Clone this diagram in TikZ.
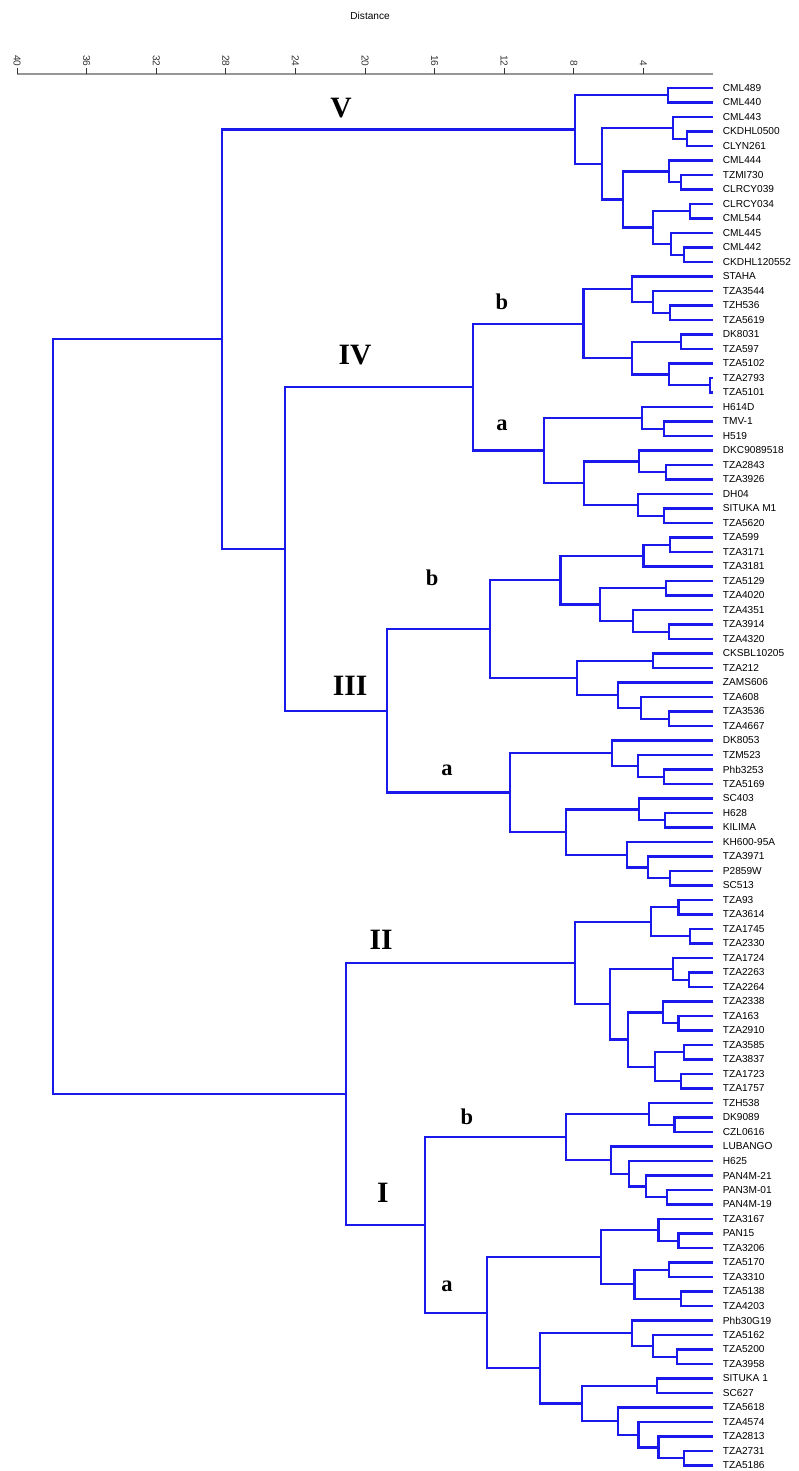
\documentclass[tikz,border=0pt]{standalone}
\usepackage{fontspec}
\newfontfamily\leaffont{Liberation Sans}
\newfontfamily\cladefont{Liberation Serif}
\usepackage{xcolor}
\definecolor{tree-blue}{RGB}{25,25,235}
\definecolor{axis-grey}{RGB}{150,150,150}
\usepackage{tikz}

\begin{document}
\begin{tikzpicture}[x=-0.435cm,y=-0.3625cm,
	branch/.style={draw=tree-blue,line width=1.6pt},
	leaf/.style={anchor=west,inner xsep=0.24cm,inner ysep=0pt,font=\leaffont\fontsize{7.2}{8}\selectfont},
	clade/.style={inner sep=0pt,font=\cladefont\bfseries\fontsize{21}{24}\selectfont},
	subclade/.style={inner sep=0pt,font=\cladefont\bfseries\fontsize{16}{18}\selectfont},
	ticklabel/.style={anchor=east,rotate=-90,inner sep=1pt,font=\leaffont\fontsize{7.2}{8}\selectfont}]
	
	\useasboundingbox (40.98,-6.069) rectangle (-4.94,95.38);
	
	% distance scale
	\node[font=\leaffont\fontsize{7.2}{8}\selectfont] (title) at (19.71,-4.97) {Distance};
	\draw[axis-grey,line width=1.3pt] (40,-0.97) coordinate (ax0) -- (0,-0.97) coordinate (ax1);
	\draw[black!80,line width=0.6pt]
		(40,-0.97) -- ++(0,-0.4) node[ticklabel] {40}
		(36,-0.97) -- ++(0,-0.4) node[ticklabel] {36}
		(32,-0.97) -- ++(0,-0.4) node[ticklabel] {32}
		(28,-0.97) -- ++(0,-0.4) node[ticklabel] {28}
		(24,-0.97) -- ++(0,-0.4) node[ticklabel] {24}
		(20,-0.97) -- ++(0,-0.4) node[ticklabel] {20}
		(16,-0.97) -- ++(0,-0.4) node[ticklabel] {16}
		(12,-0.97) -- ++(0,-0.4) node[ticklabel] {12}
		(8,-0.97) -- ++(0,-0.4) node[ticklabel] {8}
		(4,-0.97) -- ++(0,-0.4) node[ticklabel] {4};
	
	% leaves, group V
	\node[leaf] (CML489) at (0,0) {CML489};
	\node[leaf] (CML440) at (0,1) {CML440};
	\node[leaf] (CML443) at (0,2) {CML443};
	\node[leaf] (CKDHL0500) at (0,3) {CKDHL0500};
	\node[leaf] (CLYN261) at (0,4) {CLYN261};
	\node[leaf] (CML444) at (0,5) {CML444};
	\node[leaf] (TZMI730) at (0,6) {TZMI730};
	\node[leaf] (CLRCY039) at (0,7) {CLRCY039};
	\node[leaf] (CLRCY034) at (0,8) {CLRCY034};
	\node[leaf] (CML544) at (0,9) {CML544};
	\node[leaf] (CML445) at (0,10) {CML445};
	\node[leaf] (CML442) at (0,11) {CML442};
	\node[leaf] (CKDHL120552) at (0,12) {CKDHL120552};
	% leaves, group IV
	\node[leaf] (STAHA) at (0,13) {STAHA};
	\node[leaf] (TZA3544) at (0,14) {TZA3544};
	\node[leaf] (TZH536) at (0,15) {TZH536};
	\node[leaf] (TZA5619) at (0,16) {TZA5619};
	\node[leaf] (DK8031) at (0,17) {DK8031};
	\node[leaf] (TZA597) at (0,18) {TZA597};
	\node[leaf] (TZA5102) at (0,19) {TZA5102};
	\node[leaf] (TZA2793) at (0,20) {TZA2793};
	\node[leaf] (TZA5101) at (0,21) {TZA5101};
	\node[leaf] (H614D) at (0,22) {H614D};
	\node[leaf] (TMV1) at (0,23) {TMV-1};
	\node[leaf] (H519) at (0,24) {H519};
	\node[leaf] (DKC9089518) at (0,25) {DKC9089518};
	\node[leaf] (TZA2843) at (0,26) {TZA2843};
	\node[leaf] (TZA3926) at (0,27) {TZA3926};
	\node[leaf] (DH04) at (0,28) {DH04};
	\node[leaf] (SITUKAM1) at (0,29) {SITUKA M1};
	\node[leaf] (TZA5620) at (0,30) {TZA5620};
	% leaves, group III
	\node[leaf] (TZA599) at (0,31) {TZA599};
	\node[leaf] (TZA3171) at (0,32) {TZA3171};
	\node[leaf] (TZA3181) at (0,33) {TZA3181};
	\node[leaf] (TZA5129) at (0,34) {TZA5129};
	\node[leaf] (TZA4020) at (0,35) {TZA4020};
	\node[leaf] (TZA4351) at (0,36) {TZA4351};
	\node[leaf] (TZA3914) at (0,37) {TZA3914};
	\node[leaf] (TZA4320) at (0,38) {TZA4320};
	\node[leaf] (CKSBL10205) at (0,39) {CKSBL10205};
	\node[leaf] (TZA212) at (0,40) {TZA212};
	\node[leaf] (ZAMS606) at (0,41) {ZAMS606};
	\node[leaf] (TZA608) at (0,42) {TZA608};
	\node[leaf] (TZA3536) at (0,43) {TZA3536};
	\node[leaf] (TZA4667) at (0,44) {TZA4667};
	\node[leaf] (DK8053) at (0,45) {DK8053};
	\node[leaf] (TZM523) at (0,46) {TZM523};
	\node[leaf] (Phb3253) at (0,47) {Phb3253};
	\node[leaf] (TZA5169) at (0,48) {TZA5169};
	\node[leaf] (SC403) at (0,49) {SC403};
	\node[leaf] (H628) at (0,50) {H628};
	\node[leaf] (KILIMA) at (0,51) {KILIMA};
	\node[leaf] (KH60095A) at (0,52) {KH600-95A};
	\node[leaf] (TZA3971) at (0,53) {TZA3971};
	\node[leaf] (P2859W) at (0,54) {P2859W};
	\node[leaf] (SC513) at (0,55) {SC513};
	% leaves, group II
	\node[leaf] (TZA93) at (0,56) {TZA93};
	\node[leaf] (TZA3614) at (0,57) {TZA3614};
	\node[leaf] (TZA1745) at (0,58) {TZA1745};
	\node[leaf] (TZA2330) at (0,59) {TZA2330};
	\node[leaf] (TZA1724) at (0,60) {TZA1724};
	\node[leaf] (TZA2263) at (0,61) {TZA2263};
	\node[leaf] (TZA2264) at (0,62) {TZA2264};
	\node[leaf] (TZA2338) at (0,63) {TZA2338};
	\node[leaf] (TZA163) at (0,64) {TZA163};
	\node[leaf] (TZA2910) at (0,65) {TZA2910};
	\node[leaf] (TZA3585) at (0,66) {TZA3585};
	\node[leaf] (TZA3837) at (0,67) {TZA3837};
	\node[leaf] (TZA1723) at (0,68) {TZA1723};
	\node[leaf] (TZA1757) at (0,69) {TZA1757};
	% leaves, group I
	\node[leaf] (TZH538) at (0,70) {TZH538};
	\node[leaf] (DK9089) at (0,71) {DK9089};
	\node[leaf] (CZL0616) at (0,72) {CZL0616};
	\node[leaf] (LUBANGO) at (0,73) {LUBANGO};
	\node[leaf] (H625) at (0,74) {H625};
	\node[leaf] (PAN4M21) at (0,75) {PAN4M-21};
	\node[leaf] (PAN3M01) at (0,76) {PAN3M-01};
	\node[leaf] (PAN4M19) at (0,77) {PAN4M-19};
	\node[leaf] (TZA3167) at (0,78) {TZA3167};
	\node[leaf] (PAN15) at (0,79) {PAN15};
	\node[leaf] (TZA3206) at (0,80) {TZA3206};
	\node[leaf] (TZA5170) at (0,81) {TZA5170};
	\node[leaf] (TZA3310) at (0,82) {TZA3310};
	\node[leaf] (TZA5138) at (0,83) {TZA5138};
	\node[leaf] (TZA4203) at (0,84) {TZA4203};
	\node[leaf] (Phb30G19) at (0,85) {Phb30G19};
	\node[leaf] (TZA5162) at (0,86) {TZA5162};
	\node[leaf] (TZA5200) at (0,87) {TZA5200};
	\node[leaf] (TZA3958) at (0,88) {TZA3958};
	\node[leaf] (SITUKA1) at (0,89) {SITUKA 1};
	\node[leaf] (SC627) at (0,90) {SC627};
	\node[leaf] (TZA5618) at (0,91) {TZA5618};
	\node[leaf] (TZA4574) at (0,92) {TZA4574};
	\node[leaf] (TZA2813) at (0,93) {TZA2813};
	\node[leaf] (TZA2731) at (0,94) {TZA2731};
	\node[leaf] (TZA5186) at (0,95) {TZA5186};
	
	% junctions, group V
	\coordinate (v1) at (2.60,0.5);
	\coordinate (v2) at (1.51,3.5);
	\coordinate (v3) at (2.28,2.75);
	\coordinate (v4) at (1.84,6.5);
	\coordinate (v5) at (2.51,5.75);
	\coordinate (v6) at (1.32,8.5);
	\coordinate (v7) at (1.65,11.5);
	\coordinate (v8) at (2.43,10.75);
	\coordinate (v9) at (3.43,9.625);
	\coordinate (v10) at (5.16,7.6875);
	\coordinate (v11) at (6.40,5.21875);
	\coordinate (V) at (7.93,2.859);
	
	\draw[branch] (CML489.west) -| (v1) |- (CML440.west);
	\draw[branch] (CKDHL0500.west) -| (v2) |- (CLYN261.west);
	\draw[branch] (CML443.west) -| (v3) |- (v2);
	\draw[branch] (TZMI730.west) -| (v4) |- (CLRCY039.west);
	\draw[branch] (CML444.west) -| (v5) |- (v4);
	\draw[branch] (CLRCY034.west) -| (v6) |- (CML544.west);
	\draw[branch] (CML442.west) -| (v7) |- (CKDHL120552.west);
	\draw[branch] (CML445.west) -| (v8) |- (v7);
	\draw[branch] (v6) -| (v9) |- (v8);
	\draw[branch] (v5) -| (v10) |- (v9);
	\draw[branch] (v3) -| (v11) |- (v10);
	\draw[branch] (v1) -| (V) |- (v11);
	
	% junctions, group IV
	\coordinate (b1) at (2.47,15.5);
	\coordinate (b2) at (3.47,14.75);
	\coordinate (b3) at (4.67,13.875);
	\coordinate (b4) at (1.86,17.5);
	\coordinate (b5) at (0.17,20.5);
	\coordinate (b6) at (2.55,19.75);
	\coordinate (b7) at (4.64,18.625);
	\coordinate (IVb) at (7.45,16.25);
	\coordinate (a1) at (2.82,23.5);
	\coordinate (a2) at (4.10,22.75);
	\coordinate (a3) at (2.72,26.5);
	\coordinate (a4) at (4.25,25.75);
	\coordinate (a5) at (2.82,29.5);
	\coordinate (a6) at (4.31,28.75);
	\coordinate (a7) at (7.41,27.25);
	\coordinate (IVa) at (9.71,25);
	\coordinate (IV) at (13.81,20.625);
	
	\draw[branch] (TZH536.west) -| (b1) |- (TZA5619.west);
	\draw[branch] (TZA3544.west) -| (b2) |- (b1);
	\draw[branch] (STAHA.west) -| (b3) |- (b2);
	\draw[branch] (DK8031.west) -| (b4) |- (TZA597.west);
	\draw[branch] (TZA2793.west) -| (b5) |- (TZA5101.west);
	\draw[branch] (TZA5102.west) -| (b6) |- (b5);
	\draw[branch] (b4) -| (b7) |- (b6);
	\draw[branch] (b3) -| (IVb) |- (b7);
	\draw[branch] (TMV1.west) -| (a1) |- (H519.west);
	\draw[branch] (H614D.west) -| (a2) |- (a1);
	\draw[branch] (TZA2843.west) -| (a3) |- (TZA3926.west);
	\draw[branch] (DKC9089518.west) -| (a4) |- (a3);
	\draw[branch] (SITUKAM1.west) -| (a5) |- (TZA5620.west);
	\draw[branch] (DH04.west) -| (a6) |- (a5);
	\draw[branch] (a4) -| (a7) |- (a6);
	\draw[branch] (a2) -| (IVa) |- (a7);
	\draw[branch] (IVb) -| (IV) |- (IVa);
	
	% junctions, group III
	\coordinate (c1) at (2.47,31.5);
	\coordinate (c2) at (4.00,32.25);
	\coordinate (c3) at (2.72,34.5);
	\coordinate (c4) at (2.55,37.5);
	\coordinate (c5) at (4.58,36.75);
	\coordinate (c6) at (6.49,35.625);
	\coordinate (c7) at (8.77,33.9375);
	\coordinate (c8) at (3.43,39.5);
	\coordinate (c9) at (2.53,43.5);
	\coordinate (c10) at (4.14,42.75);
	\coordinate (c11) at (5.48,41.875);
	\coordinate (c12) at (7.80,40.6875);
	\coordinate (IIIb) at (12.82,37.3125);
	\coordinate (d1) at (2.82,47.5);
	\coordinate (d2) at (4.33,46.75);
	\coordinate (d3) at (5.79,45.875);
	\coordinate (d4) at (2.76,50.5);
	\coordinate (d5) at (4.25,49.75);
	\coordinate (d6) at (2.47,54.5);
	\coordinate (d7) at (3.75,53.75);
	\coordinate (d8) at (4.96,52.875);
	\coordinate (d9) at (8.47,51.3125);
	\coordinate (IIIa) at (11.67,48.594);
	\coordinate (III) at (18.74,42.953);
	
	\draw[branch] (TZA599.west) -| (c1) |- (TZA3171.west);
	\draw[branch] (c1) -| (c2) |- (TZA3181.west);
	\draw[branch] (TZA5129.west) -| (c3) |- (TZA4020.west);
	\draw[branch] (TZA3914.west) -| (c4) |- (TZA4320.west);
	\draw[branch] (TZA4351.west) -| (c5) |- (c4);
	\draw[branch] (c3) -| (c6) |- (c5);
	\draw[branch] (c2) -| (c7) |- (c6);
	\draw[branch] (CKSBL10205.west) -| (c8) |- (TZA212.west);
	\draw[branch] (TZA3536.west) -| (c9) |- (TZA4667.west);
	\draw[branch] (TZA608.west) -| (c10) |- (c9);
	\draw[branch] (ZAMS606.west) -| (c11) |- (c10);
	\draw[branch] (c8) -| (c12) |- (c11);
	\draw[branch] (c7) -| (IIIb) |- (c12);
	\draw[branch] (Phb3253.west) -| (d1) |- (TZA5169.west);
	\draw[branch] (TZM523.west) -| (d2) |- (d1);
	\draw[branch] (DK8053.west) -| (d3) |- (d2);
	\draw[branch] (H628.west) -| (d4) |- (KILIMA.west);
	\draw[branch] (SC403.west) -| (d5) |- (d4);
	\draw[branch] (P2859W.west) -| (d6) |- (SC513.west);
	\draw[branch] (TZA3971.west) -| (d7) |- (d6);
	\draw[branch] (KH60095A.west) -| (d8) |- (d7);
	\draw[branch] (d5) -| (d9) |- (d8);
	\draw[branch] (d3) -| (IIIa) |- (d9);
	\draw[branch] (IIIb) -| (III) |- (IIIa);
	
	% junctions, group II
	\coordinate (e1) at (1.99,56.5);
	\coordinate (e2) at (1.32,58.5);
	\coordinate (e3) at (3.58,57.5);
	\coordinate (e4) at (1.36,61.5);
	\coordinate (e5) at (2.28,60.75);
	\coordinate (e6) at (1.99,64.5);
	\coordinate (e7) at (2.86,63.75);
	\coordinate (e8) at (1.65,66.5);
	\coordinate (e9) at (1.86,68.5);
	\coordinate (e10) at (3.33,67.5);
	\coordinate (e11) at (4.90,65.625);
	\coordinate (e12) at (5.92,63.1875);
	\coordinate (II) at (7.93,60.344);
	
	\draw[branch] (TZA93.west) -| (e1) |- (TZA3614.west);
	\draw[branch] (TZA1745.west) -| (e2) |- (TZA2330.west);
	\draw[branch] (e1) -| (e3) |- (e2);
	\draw[branch] (TZA2263.west) -| (e4) |- (TZA2264.west);
	\draw[branch] (TZA1724.west) -| (e5) |- (e4);
	\draw[branch] (TZA163.west) -| (e6) |- (TZA2910.west);
	\draw[branch] (TZA2338.west) -| (e7) |- (e6);
	\draw[branch] (TZA3585.west) -| (e8) |- (TZA3837.west);
	\draw[branch] (TZA1723.west) -| (e9) |- (TZA1757.west);
	\draw[branch] (e8) -| (e10) |- (e9);
	\draw[branch] (e7) -| (e11) |- (e10);
	\draw[branch] (e5) -| (e12) |- (e11);
	\draw[branch] (e3) -| (II) |- (e12);
	
	% junctions, group I
	\coordinate (f1) at (2.22,71.5);
	\coordinate (f2) at (3.66,70.75);
	\coordinate (f3) at (2.63,76.5);
	\coordinate (f4) at (3.85,75.75);
	\coordinate (f5) at (4.83,74.875);
	\coordinate (f6) at (5.88,73.9375);
	\coordinate (Ib) at (8.47,72.344);
	\coordinate (g1) at (1.99,79.5);
	\coordinate (g2) at (3.14,78.75);
	\coordinate (g3) at (2.51,81.5);
	\coordinate (g4) at (1.84,83.5);
	\coordinate (g5) at (4.52,82.5);
	\coordinate (g6) at (6.45,80.625);
	\coordinate (g7) at (2.09,87.5);
	\coordinate (g8) at (3.47,86.75);
	\coordinate (g9) at (4.64,85.875);
	\coordinate (g10) at (3.24,89.5);
	\coordinate (g11) at (1.65,94.5);
	\coordinate (g12) at (3.14,93.75);
	\coordinate (g13) at (4.29,92.875);
	\coordinate (g14) at (5.48,91.9375);
	\coordinate (g15) at (7.55,90.71875);
	\coordinate (g16) at (9.94,88.297);
	\coordinate (Ia) at (12.97,84.461);
	\coordinate (I) at (16.55,78.402);
	
	\draw[branch] (DK9089.west) -| (f1) |- (CZL0616.west);
	\draw[branch] (TZH538.west) -| (f2) |- (f1);
	\draw[branch] (PAN3M01.west) -| (f3) |- (PAN4M19.west);
	\draw[branch] (PAN4M21.west) -| (f4) |- (f3);
	\draw[branch] (H625.west) -| (f5) |- (f4);
	\draw[branch] (LUBANGO.west) -| (f6) |- (f5);
	\draw[branch] (f2) -| (Ib) |- (f6);
	\draw[branch] (PAN15.west) -| (g1) |- (TZA3206.west);
	\draw[branch] (TZA3167.west) -| (g2) |- (g1);
	\draw[branch] (TZA5170.west) -| (g3) |- (TZA3310.west);
	\draw[branch] (TZA5138.west) -| (g4) |- (TZA4203.west);
	\draw[branch] (g3) -| (g5) |- (g4);
	\draw[branch] (g2) -| (g6) |- (g5);
	\draw[branch] (TZA5200.west) -| (g7) |- (TZA3958.west);
	\draw[branch] (TZA5162.west) -| (g8) |- (g7);
	\draw[branch] (Phb30G19.west) -| (g9) |- (g8);
	\draw[branch] (SITUKA1.west) -| (g10) |- (SC627.west);
	\draw[branch] (TZA2731.west) -| (g11) |- (TZA5186.west);
	\draw[branch] (TZA2813.west) -| (g12) |- (g11);
	\draw[branch] (TZA4574.west) -| (g13) |- (g12);
	\draw[branch] (TZA5618.west) -| (g14) |- (g13);
	\draw[branch] (g10) -| (g15) |- (g14);
	\draw[branch] (g9) -| (g16) |- (g15);
	\draw[branch] (g6) -| (Ia) |- (g16);
	\draw[branch] (Ib) -| (I) |- (Ia);
	
	% upper levels
	\coordinate (IVIII) at (24.60,31.789);
	\coordinate (upper) at (28.22,17.324);
	\coordinate (lower) at (21.09,69.373);
	\coordinate (root) at (37.93,43.349);
	
	\draw[branch] (IV) -| (IVIII) |- (III);
	\draw[branch] (V) -| (upper) |- (IVIII);
	\draw[branch] (II) -| (lower) |- (I);
	\draw[branch] (upper) -| (root) |- (lower);
	
	% clade labels
	\node[clade] (labV) at (21.38,1.38) {V};
	\node[clade] (labIV) at (20.57,18.41) {IV};
	\node[clade] (labIII) at (20.86,41.24) {III};
	\node[clade] (labII) at (19.08,58.76) {II};
	\node[clade] (labI) at (18.97,76.2) {I};
	\node[subclade] (labIVb) at (12.13,14.76) {b};
	\node[subclade] (labIVa) at (12.13,23.24) {a};
	\node[subclade] (labIIIb) at (16.15,33.79) {b};
	\node[subclade] (labIIIa) at (15.29,47.03) {a};
	\node[subclade] (labIb) at (14.14,70.97) {b};
	\node[subclade] (labIa) at (15.29,82.62) {a};
	
\end{tikzpicture}
\end{document}
